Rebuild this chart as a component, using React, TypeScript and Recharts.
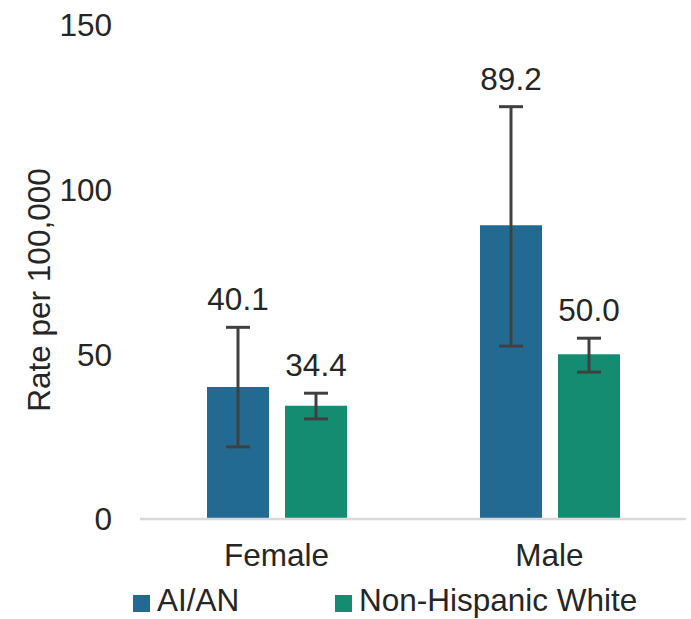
import React from "react";
import {
  BarChart,
  Bar,
  XAxis,
  YAxis,
  ErrorBar,
  LabelList,
  Legend,
} from "recharts";

const categories = ["Female", "Male"];
const aianRates = [40.1, 89.2];
const aianLow = [21.9, 52.5];
const aianHigh = [58.2, 125.2];
const whiteRates = [34.4, 50.0];
const whiteLow = [30.4, 44.6];
const whiteHigh = [38.2, 54.9];
const yTicks = [0, 50, 100, 150];

const FONT = "'Liberation Sans', Arial, sans-serif";
const FS = 31.5;
const TEXT = "#262626";
const AIAN = "#236A93";
const WHITE = "#138C72";

const data = categories.map((c, i) => ({
  name: c,
  aian: aianRates[i],
  aianErr: [aianRates[i] - aianLow[i], aianHigh[i] - aianRates[i]],
  white: whiteRates[i],
  whiteErr: [whiteRates[i] - whiteLow[i], whiteHigh[i] - whiteRates[i]],
}));

// label sits above the top of the error bar
const makeLabel = (highs: number[]) => (props: any) => {
  const { x, y, width, height, value, index } = props;
  const perUnit = height / value;
  const top = y + height - highs[index] * perUnit;
  return (
    <text
      x={x + width / 2}
      y={top - 17}
      textAnchor="middle"
      fontSize={FS}
      fontFamily={FONT}
      fill={TEXT}
    >
      {Number(value).toFixed(1)}
    </text>
  );
};

const renderLegend = () => (
  <div style={{ position: "relative", height: 34, fontFamily: FONT, fontSize: FS, color: TEXT }}>
    {[
      { label: "AI/AN", color: AIAN, left: 133 },
      { label: "Non-Hispanic White", color: WHITE, left: 335 },
    ].map((it) => (
      <div
        key={it.label}
        style={{ position: "absolute", left: it.left, top: 0, display: "flex", alignItems: "center", whiteSpace: "nowrap" }}
      >
        <span
          style={{
            width: 17,
            height: 17,
            background: it.color,
            marginRight: 7,
            display: "inline-block",
            position: "relative",
            top: 3,
          }}
        />
        <span style={{ lineHeight: "34px" }}>{it.label}</span>
      </div>
    ))}
  </div>
);

export default function App() {
  return (
    <div style={{ position: "absolute", left: 0, top: 0, background: "#fff" }}>
      <BarChart
        width={691}
        height={619}
        data={data}
        margin={{ top: 25, right: 5, left: 0, bottom: 70 }}
        barGap={16}
      >
        <XAxis
          dataKey="name"
          axisLine={{ stroke: "#d9d9d9", strokeWidth: 2.5 }}
          tickLine={false}
          tickSize={0}
          tickMargin={25}
          height={30}
          tick={{ fontSize: FS, fontFamily: FONT, fill: TEXT }}
        />
        <YAxis
          domain={[0, 150]}
          ticks={yTicks}
          width={140}
          axisLine={false}
          tickLine={false}
          tickSize={0}
          tickMargin={28}
          tick={{ fontSize: FS, fontFamily: FONT, fill: TEXT }}
          label={{
            content: () => (
              <text
                x={39}
                y={290}
                transform="rotate(-90 39 290)"
                textAnchor="middle"
                dominantBaseline="central"
                fontSize={FS}
                fontFamily={FONT}
                fill={TEXT}
              >
                Rate per 100,000
              </text>
            ),
          }}
        />
        <Legend
          layout="horizontal"
          verticalAlign="middle"
          align="center"
          wrapperStyle={{ top: 583, left: 0, width: 691 }}
          content={renderLegend}
        />
        <Bar dataKey="aian" name="AI/AN" fill={AIAN} barSize={62} isAnimationActive={false}>
          <ErrorBar dataKey="aianErr" width={12} strokeWidth={3} stroke="#404040" direction="y" />
          <LabelList dataKey="aian" content={makeLabel(aianHigh)} />
        </Bar>
        <Bar dataKey="white" name="Non-Hispanic White" fill={WHITE} barSize={62} isAnimationActive={false}>
          <ErrorBar dataKey="whiteErr" width={12} strokeWidth={3} stroke="#404040" direction="y" />
          <LabelList dataKey="white" content={makeLabel(whiteHigh)} />
        </Bar>
      </BarChart>
    </div>
  );
}
